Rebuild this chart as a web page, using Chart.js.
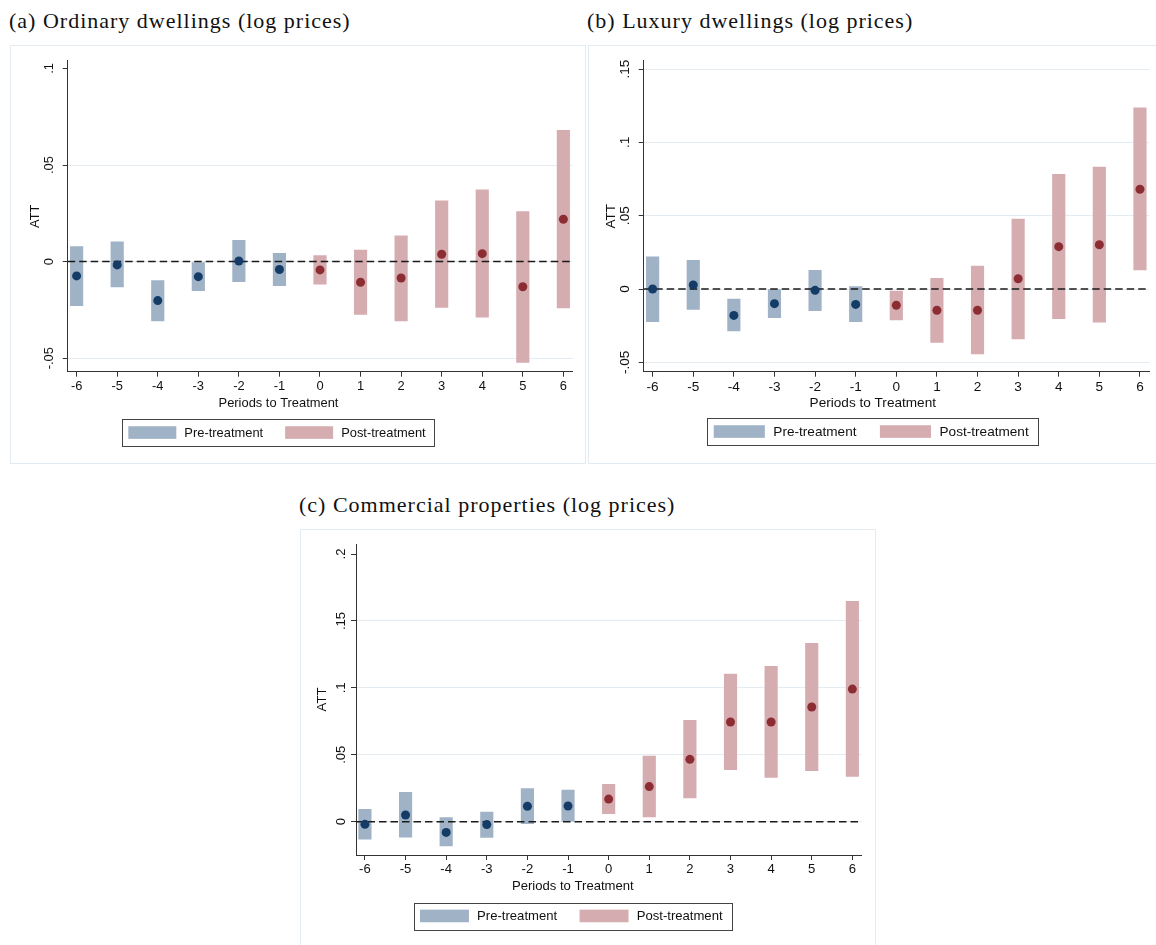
<!DOCTYPE html>
<html>
<head>
<meta charset="utf-8">
<title>Event-study estimates of log prices</title>
<script src="https://cdn.jsdelivr.net/npm/chart.js@4.4.0/dist/chart.umd.min.js"></script>
<style>
  html, body { margin: 0; padding: 0; background: #fff; }
  body { position: relative; width: 1156px; height: 945px; overflow: hidden; }
  .frame { position: absolute; border: 1px solid #e3ebf1; box-sizing: border-box; }
  canvas { position: absolute; }
  .ttl {
    position: absolute; white-space: nowrap; color: #111;
    font-family: "Liberation Serif", "Times New Roman", serif;
    font-size: 22px; line-height: 22px; letter-spacing: 1px;
  }
</style>
</head>
<body>
<div class="ttl" style="left:9px;top:10px">(a) Ordinary dwellings (log prices)</div>
<div class="ttl" style="left:587px;top:10px">(b) Luxury dwellings (log prices)</div>
<div class="ttl" style="left:299px;top:494px">(c) Commercial properties (log prices)</div>

<div class="frame" style="left:10px;top:45px;width:576px;height:419px"></div>
<div class="frame" style="left:588px;top:45px;width:600px;height:419px"></div>
<div class="frame" style="left:300px;top:529px;width:576px;height:440px"></div>

<canvas id="chartA" width="575" height="418" style="left:10px;top:45px"></canvas>
<canvas id="chartB" width="568" height="418" style="left:588px;top:45px"></canvas>
<canvas id="chartC" width="575" height="416" style="left:300px;top:529px"></canvas>

<script>
// Event time relative to treatment
const periods = [-6, -5, -4, -3, -2, -1, 0, 1, 2, 3, 4, 5, 6];
const seriesLabels = ['Pre-treatment', 'Post-treatment'];
const xTitle = 'Periods to Treatment';
const yTitle = 'ATT';

// (a) Ordinary dwellings: point estimate and confidence band
const ordinaryEst  = [-0.0074, -0.0017, -0.0202, -0.0078,  0.0003, -0.0041, -0.0043, -0.0107, -0.0085,  0.0038,  0.0041, -0.0130,  0.0219];
const ordinaryLow  = [-0.0228, -0.0131, -0.0307, -0.0150, -0.0104, -0.0124, -0.0117, -0.0273, -0.0307, -0.0237, -0.0288, -0.0522, -0.0240];
const ordinaryHigh = [ 0.0078,  0.0102, -0.0098, -0.0005,  0.0110,  0.0043,  0.0031,  0.0060,  0.0133,  0.0314,  0.0371,  0.0259,  0.0680];
const ordinaryTicks = [-0.05, 0, 0.05, 0.1];
const ordinaryTickLabels = ['-.05', '0', '.05', '.1'];

// (b) Luxury dwellings
const luxuryEst  = [ 0.0000,  0.0027, -0.0180, -0.0100, -0.0009, -0.0105, -0.0111, -0.0145, -0.0145,  0.0070,  0.0289,  0.0302,  0.0680];
const luxuryLow  = [-0.0223, -0.0139, -0.0286, -0.0195, -0.0148, -0.0223, -0.0211, -0.0364, -0.0443, -0.0341, -0.0202, -0.0227,  0.0130];
const luxuryHigh = [ 0.0220,  0.0195, -0.0068,  0.0000,  0.0127,  0.0016, -0.0014,  0.0073,  0.0157,  0.0477,  0.0782,  0.0832,  0.1236];
const luxuryTicks = [-0.05, 0, 0.05, 0.1, 0.15];
const luxuryTickLabels = ['-.05', '0', '.05', '.1', '.15'];

// (c) Commercial properties
const commercialEst  = [-0.0020,  0.0050, -0.0080, -0.0022,  0.0115,  0.0117,  0.0169,  0.0262,  0.0466,  0.0745,  0.0745,  0.0857,  0.0991];
const commercialLow  = [-0.0130, -0.0115, -0.0182, -0.0117, -0.0015,  0.0000,  0.0060,  0.0035,  0.0177,  0.0389,  0.0331,  0.0381,  0.0339];
const commercialHigh = [ 0.0092,  0.0219,  0.0030,  0.0072,  0.0247,  0.0237,  0.0279,  0.0491,  0.0757,  0.1103,  0.1161,  0.1332,  0.1646];
const commercialTicks = [0, 0.05, 0.1, 0.15, 0.2];
const commercialTickLabels = ['0', '.05', '.1', '.15', '.2'];

// Colours (Stata s2color navy / maroon, bands at ~40% intensity)
const NAVY = 'rgb(20,60,102)';
const MAROON = 'rgb(140,45,52)';
const NAVY_BAND = '#a0b2c5';
const MAROON_BAND = '#d5acaf';
const GRID = '#e4ecf2';
const AXIS = '#333333';
const SANS = '"Liberation Sans", Arial, Helvetica, sans-serif';

function makePanel(cfg) {
  const canvas = document.getElementById(cfg.id);
  const W = canvas.width, H = canvas.height, A = cfg.area;
  const preIdx = periods.map((p, i) => i).filter(i => periods[i] < 0);
  const postIdx = periods.map((p, i) => i).filter(i => periods[i] >= 0);
  const band = idx => idx.map(i => ({ x: periods[i], y: [cfg.low[i], cfg.high[i]] }));
  const dots = idx => idx.map(i => ({ x: periods[i], y: cfg.est[i] }));
  const topTick = cfg.ticks[cfg.ticks.length - 1];

  const barCommon = { type: 'bar', borderWidth: 0, borderSkipped: false, barThickness: 12.5, grouped: false, order: 3 };
  const dotCommon = { type: 'scatter', pointRadius: 4.5, pointHoverRadius: 4.5, pointBorderWidth: 0, showLine: false, order: 1 };

  const decor = {
    id: 'decor',
    beforeDatasetsDraw(chart) { chart.$zeroDone = false; },
    beforeDatasetDraw(chart, args) {
      // dashed reference line at zero, above the bands and below the dots
      if (args.meta.type !== 'scatter' || chart.$zeroDone) return;
      chart.$zeroDone = true;
      const ctx = chart.ctx, ca = chart.chartArea;
      const y = chart.scales.y.getPixelForValue(0);
      ctx.save();
      ctx.strokeStyle = '#1a1a1a';
      ctx.lineWidth = 1.5;
      ctx.setLineDash([7.5, 4]);
      ctx.beginPath();
      ctx.moveTo(ca.left, y);
      ctx.lineTo(ca.right, y);
      ctx.stroke();
      ctx.restore();
    },
    afterDraw(chart) {
      const ctx = chart.ctx, ca = chart.chartArea, ys = chart.scales.y;
      const f = cfg.font;
      ctx.save();
      ctx.fillStyle = '#111';
      ctx.font = f + 'px ' + SANS;
      ctx.textAlign = 'center';
      ctx.textBaseline = 'middle';
      // rotated y tick labels
      cfg.ticks.forEach((v, k) => {
        ctx.save();
        ctx.translate(ca.left - cfg.yLabelGap, ys.getPixelForValue(v));
        ctx.rotate(-Math.PI / 2);
        ctx.fillText(cfg.tickLabels[k], 0, 0);
        ctx.restore();
      });
      // y title
      ctx.save();
      ctx.translate(ca.left - cfg.yTitleGap, (ca.top + ca.bottom) / 2);
      ctx.rotate(-Math.PI / 2);
      ctx.fillText(yTitle, 0, 0);
      ctx.restore();
      // x title
      ctx.fillText(xTitle, cfg.captionX, cfg.xTitleY);
      // boxed legend for the two band series
      const items = chart.data.datasets.filter(d => d.type === 'bar');
      const s = cfg.legendScale;
      const padL = 6 * s, sw = 48 * s, sh = 12.6, gapT = 8 * s, gapI = 22 * s, padR = 9 * s, h = 26.5;
      const tw = items.map(d => ctx.measureText(d.label).width);
      let total = padL + padR + gapI * (items.length - 1);
      tw.forEach(w => { total += sw + gapT + w; });
      const x0 = cfg.captionX - total / 2, y0 = cfg.legendTop;
      ctx.fillStyle = '#fff';
      ctx.fillRect(x0, y0, total, h);
      ctx.strokeStyle = '#444';
      ctx.lineWidth = 1;
      ctx.strokeRect(Math.round(x0) + 0.5, Math.round(y0) + 0.5, Math.round(total), Math.round(h));
      let x = x0 + padL;
      ctx.textAlign = 'left';
      items.forEach((d, k) => {
        ctx.fillStyle = d.backgroundColor;
        ctx.fillRect(x, y0 + (h - sh) / 2, sw, sh);
        x += sw + gapT;
        ctx.fillStyle = '#111';
        ctx.fillText(d.label, x, y0 + h / 2 + 0.5);
        x += tw[k] + gapI;
      });
      ctx.restore();
    }
  };

  return new Chart(canvas, {
    type: 'bar',
    data: {
      datasets: [
        Object.assign({ label: seriesLabels[0], data: band(preIdx), backgroundColor: NAVY_BAND }, barCommon),
        Object.assign({ label: seriesLabels[1], data: band(postIdx), backgroundColor: MAROON_BAND }, barCommon),
        Object.assign({ label: seriesLabels[0] + ' estimate', data: dots(preIdx), backgroundColor: NAVY, pointBackgroundColor: NAVY }, dotCommon),
        Object.assign({ label: seriesLabels[1] + ' estimate', data: dots(postIdx), backgroundColor: MAROON, pointBackgroundColor: MAROON }, dotCommon)
      ]
    },
    options: {
      responsive: false,
      animation: false,
      devicePixelRatio: 1,
      events: [],
      layout: { padding: { left: 0, bottom: 0, top: A.top, right: W - A.right } },
      plugins: { legend: { display: false }, tooltip: { enabled: false }, title: { display: false } },
      scales: {
        x: {
          type: 'linear', offset: false,
          min: -6.22, max: 6.23,
          afterBuildTicks: s => { s.ticks = periods.map(v => ({ value: v })); },
          afterFit: s => { s.height = H - A.bottom; s.paddingLeft = 0; s.paddingRight = 0; },
          grid: { offset: false, drawOnChartArea: false, drawTicks: true, tickLength: 5, tickColor: AXIS, tickWidth: 1 },
          border: { display: true, color: AXIS, width: 1 },
          ticks: { autoSkip: false, maxRotation: 0, minRotation: 0, padding: 2, color: '#111',
                   font: { family: SANS, size: cfg.font } }
        },
        y: {
          type: 'linear',
          min: cfg.yMin, max: cfg.yMax,
          afterBuildTicks: s => { s.ticks = cfg.ticks.map(v => ({ value: v })); },
          afterFit: s => { s.width = A.left; s.paddingTop = 0; s.paddingBottom = 0; },
          grid: {
            drawOnChartArea: true, drawTicks: true, tickLength: 5, tickColor: AXIS, tickWidth: 1, lineWidth: 1,
            color: c => (!cfg.topGrid && c.tick && c.tick.value === topTick) ? 'rgba(0,0,0,0)' : GRID
          },
          border: { display: true, color: AXIS, width: 1 },
          ticks: { display: false }
        }
      }
    },
    plugins: [decor]
  });
}

makePanel({
  id: 'chartA', area: { left: 57.7, top: 15.7, right: 562.7, bottom: 326.7 },
  yMin: -0.057, yMax: 0.104,
  est: ordinaryEst, low: ordinaryLow, high: ordinaryHigh,
  ticks: ordinaryTicks, tickLabels: ordinaryTickLabels, topGrid: false,
  font: 12.9, yLabelGap: 18.5, yTitleGap: 32.4,
  captionX: 268.5, xTitleY: 358, legendTop: 374.3, legendScale: 1.0
});

makePanel({
  id: 'chartB', area: { left: 55.7, top: 15.7, right: 561.3, bottom: 326.7 },
  yMin: -0.0564, yMax: 0.1557,
  est: luxuryEst, low: luxuryLow, high: luxuryHigh,
  ticks: luxuryTicks, tickLabels: luxuryTickLabels, topGrid: true,
  font: 13.6, yLabelGap: 18.2, yTitleGap: 32,
  captionX: 284.8, xTitleY: 358.3, legendTop: 373.3, legendScale: 1.065
});

makePanel({
  id: 'chartC', area: { left: 56, top: 15, right: 561.7, bottom: 326 },
  yMin: -0.0249, yMax: 0.2075,
  est: commercialEst, low: commercialLow, high: commercialHigh,
  ticks: commercialTicks, tickLabels: commercialTickLabels, topGrid: false,
  font: 13.1, yLabelGap: 15, yTitleGap: 34,
  captionX: 272.8, xTitleY: 357, legendTop: 373.7, legendScale: 1.02
});
</script>
</body>
</html>
